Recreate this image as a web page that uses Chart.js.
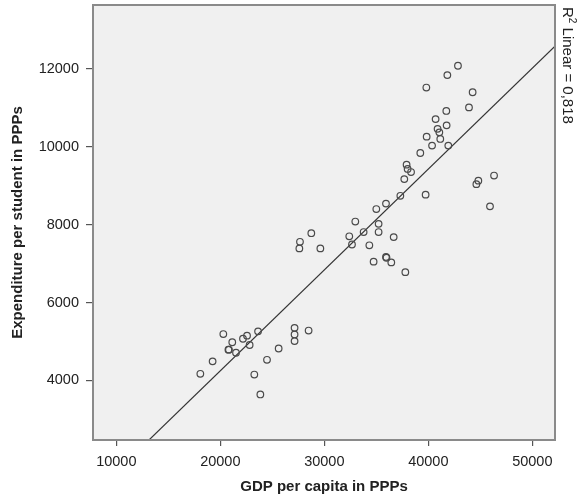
<!DOCTYPE html>
<html>
<head>
<meta charset="utf-8">
<script src="https://cdn.jsdelivr.net/npm/chart.js"></script>
<style>
  body { margin: 0; background: #fff; }
  #wrap { width: 580px; height: 498px; }
</style>
</head>
<body>
<div id="wrap"><canvas id="scatterChart"></canvas></div>
<script>
// GDP per capita vs expenditure per student, both in PPPs
const gdpPerCapita = [
    42850, 41830, 39810, 44260, 43910, 41730, 40700, 41760, 40890, 41060,
    39840, 41150, 40360, 41920, 39230, 37910, 38010, 38340, 37690, 37310,
    39740, 35930, 35000, 46320, 44810, 44620, 45930,
    32980, 35220, 33780, 32400, 35220, 36670, 32660, 34330, 34740, 35930,
    35980, 36440, 37790,
    28750, 27660, 27600, 29620, 20290, 21150, 22180, 22570, 23630, 20780,
    20830, 21510, 22820, 19260, 18080, 25610, 24490, 23270, 23850, 27140,
    27140, 27140, 28490
];
const expenditure = [
    12080, 11840, 11520, 11400, 11010, 10920, 10710, 10550, 10460, 10370,
    10260, 10200, 10030, 10030, 9840, 9540, 9430, 9350, 9170, 8740,
    8770, 8540, 8400, 9260, 9130, 9040, 8470,
    8080, 8020, 7810, 7700, 7810, 7680, 7490, 7470, 7050, 7170,
    7150, 7030, 6780,
    7780, 7560, 7390, 7390, 5190, 4980, 5070, 5150, 5260, 4790,
    4790, 4710, 4910, 4490, 4170, 4820, 4530, 4150, 3640, 5350,
    5180, 5010, 5280
];
const xTicks = [10000, 20000, 30000, 40000, 50000];
const yTicks = [4000, 6000, 8000, 10000, 12000];
const xRange = [7760, 52180];
const yRange = [2470, 13640];
const r2Text = '0,818';

// least squares fit for the reference line
function linearFit(xs, ys) {
    const n = xs.length;
    const mx = xs.reduce((a, b) => a + b, 0) / n;
    const my = ys.reduce((a, b) => a + b, 0) / n;
    let sxy = 0, sxx = 0;
    for (let i = 0; i < n; i++) {
        sxy += (xs[i] - mx) * (ys[i] - my);
        sxx += (xs[i] - mx) * (xs[i] - mx);
    }
    const slope = sxy / sxx;
    return { slope: slope, intercept: my - slope * mx };
}

const fit = linearFit(gdpPerCapita, expenditure);
const points = gdpPerCapita.map((x, i) => ({ x: x, y: expenditure[i] }));
const fitLine = xRange.map(x => ({ x: x, y: fit.intercept + fit.slope * x }));

Chart.defaults.font.family = '"Liberation Sans", Arial, sans-serif';
Chart.defaults.color = '#222';

// grey plot background and frame
const plotFrame = {
    id: 'plotFrame',
    beforeDraw(chart) {
        const { ctx, chartArea: a } = chart;
        ctx.save();
        ctx.fillStyle = '#f0f0f0';
        ctx.fillRect(a.left, a.top, a.right - a.left, a.bottom - a.top);
        ctx.restore();
    },
    afterDraw(chart) {
        const { ctx, chartArea: a } = chart;
        ctx.save();
        ctx.strokeStyle = '#8a8a8a';
        ctx.lineWidth = 2;
        ctx.strokeRect(a.left, a.top, a.right - a.left, a.bottom - a.top);
        ctx.restore();
    }
};

// "R² Linear = ..." written down the right edge
const r2Label = {
    id: 'r2Label',
    afterDraw(chart) {
        const { ctx, chartArea: a } = chart;
        ctx.save();
        ctx.translate(a.right + 12, a.top + 2);
        ctx.rotate(Math.PI / 2);
        ctx.fillStyle = '#222';
        ctx.textBaseline = 'middle';
        ctx.textAlign = 'left';
        ctx.font = '15px "Liberation Sans", Arial, sans-serif';
        ctx.fillText('R', 0, 0);
        let x = ctx.measureText('R').width;
        ctx.font = '10px "Liberation Sans", Arial, sans-serif';
        ctx.fillText('2', x, -5);
        x += ctx.measureText('2').width;
        ctx.font = '15px "Liberation Sans", Arial, sans-serif';
        ctx.fillText(' Linear = ' + r2Text, x, 0);
        ctx.restore();
    }
};

const ctx = document.getElementById('scatterChart').getContext('2d');
new Chart(ctx, {
    type: 'scatter',
    data: {
        datasets: [{
            label: 'Observed',
            data: points,
            pointRadius: 3.3,
            pointHoverRadius: 3.3,
            pointBorderWidth: 1.2,
            borderColor: '#4a4a4a',
            backgroundColor: 'rgba(0,0,0,0)'
        }, {
            type: 'line',
            label: 'Linear',
            data: fitLine,
            borderColor: '#333',
            borderWidth: 1.2,
            pointRadius: 0,
            fill: false
        }]
    },
    options: {
        responsive: true,
        maintainAspectRatio: false,
        animation: false,
        events: [],
        layout: { padding: { left: 0, right: 25, top: 5, bottom: 0 } },
        plugins: {
            legend: { display: false },
            tooltip: { enabled: false }
        },
        scales: {
            x: {
                type: 'linear',
                min: xRange[0],
                max: xRange[1],
                afterBuildTicks: s => { s.ticks = xTicks.map(v => ({ value: v })); },
                afterFit: s => { s.height = 58; s.paddingLeft = 0; s.paddingRight = 0; },
                border: { display: false },
                grid: { drawOnChartArea: false, drawTicks: true, tickLength: 6, color: '#555', lineWidth: 1.2 },
                ticks: { padding: 7, font: { size: 14.5 }, callback: v => String(v) },
                title: {
                    display: true,
                    text: 'GDP per capita in PPPs',
                    font: { size: 15, weight: 'bold' },
                    padding: { top: 0, bottom: 2 }
                }
            },
            y: {
                type: 'linear',
                min: yRange[0],
                max: yRange[1],
                afterBuildTicks: s => { s.ticks = yTicks.map(v => ({ value: v })); },
                afterFit: s => { s.width = 93; s.paddingTop = 0; s.paddingBottom = 0; },
                border: { display: false },
                grid: { drawOnChartArea: false, drawTicks: true, tickLength: 7, color: '#555', lineWidth: 1.2 },
                ticks: { padding: 7, font: { size: 14.5 }, callback: v => String(v) },
                title: {
                    display: true,
                    text: 'Expenditure per student in PPPs',
                    font: { size: 15, weight: 'bold' },
                    padding: { top: 9, bottom: 0 }
                }
            }
        }
    },
    plugins: [plotFrame, r2Label]
});
</script>
</body>
</html>
